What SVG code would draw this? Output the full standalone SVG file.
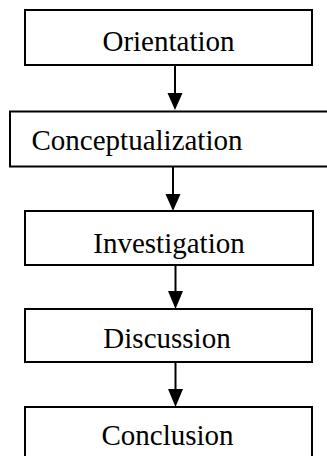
<svg xmlns="http://www.w3.org/2000/svg" width="327" height="456" viewBox="0 0 327 456">
<defs>
<style>
.box{fill:#fff;stroke:#000;stroke-width:2}
.lbl{font-family:"Liberation Serif","Times New Roman",serif;font-size:29px;fill:#000}
.conn{stroke:#000;stroke-width:2;fill:none}
.head{fill:#000}
</style>
</defs>
<rect width="327" height="456" fill="#fff"/>
<g id="connectors">
<line class="conn" x1="175" y1="65" x2="175" y2="94"/>
<polygon class="head" points="167.5,93 182.5,93 175,110"/>
<line class="conn" x1="173" y1="167" x2="173" y2="195"/>
<polygon class="head" points="165.5,194 180.5,194 173,211"/>
<line class="conn" x1="175.5" y1="265" x2="175.5" y2="292"/>
<polygon class="head" points="168,291 183,291 175.5,309"/>
<line class="conn" x1="175.5" y1="362" x2="175.5" y2="390"/>
<polygon class="head" points="168,389 183,389 175.5,407"/>
</g>
<g id="orientation">
<rect class="box" x="25" y="10" width="287" height="55"/>
<text class="lbl" x="168.5" y="50.5" text-anchor="middle">Orientation</text>
</g>
<g id="conceptualization">
<rect class="box" x="10" y="111.5" width="330" height="55"/>
<text class="lbl" x="31.5" y="150">Conceptualization</text>
</g>
<g id="investigation">
<rect class="box" x="25" y="211" width="288" height="54"/>
<text class="lbl" x="169" y="253" text-anchor="middle">Investigation</text>
</g>
<g id="discussion">
<rect class="box" x="25" y="309" width="287" height="53"/>
<text class="lbl" x="167" y="348" text-anchor="middle">Discussion</text>
</g>
<g id="conclusion">
<rect class="box" x="25" y="407" width="287" height="60"/>
<text class="lbl" x="167.5" y="445" text-anchor="middle">Conclusion</text>
</g>
</svg>
